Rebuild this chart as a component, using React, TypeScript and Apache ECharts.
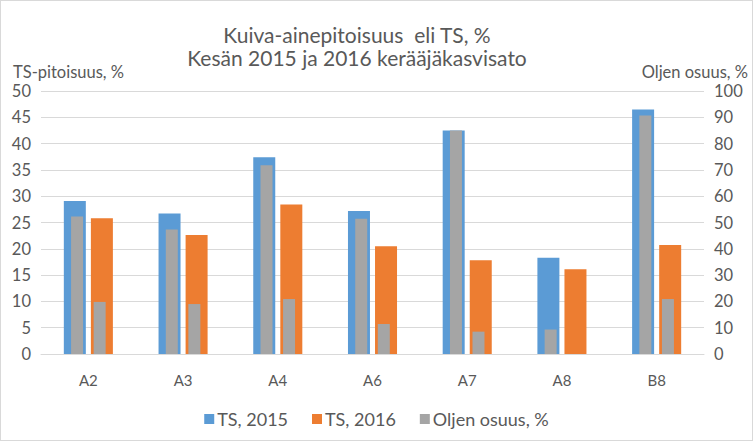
import React, { useEffect, useRef } from "react";
import * as echarts from "echarts";

const categories = ["A2", "A3", "A4", "A6", "A7", "A8", "B8"];
const ts2015 = [29.1, 26.7, 37.4, 27.2, 42.5, 18.3, 46.5];
const ts2016 = [25.8, 22.6, 28.4, 20.5, 17.8, 16.1, 20.7];
const oljen2015 = [52.3, 47.3, 71.8, 51.4, 85, 9.3, 90.7];
const oljen2016 = [19.8, 19, 20.9, 11.4, 8.5, 0, 20.9];
const leftTicks = { min: 0, max: 50, interval: 5 };
const rightTicks = { min: 0, max: 100, interval: 10 };
const titleLines = ["Kuiva-ainepitoisuus  eli TS, %", "Kesän 2015 ja 2016 kerääjäkasvisato"];

const FONT = "Lato, 'Open Sans', sans-serif";
const TXT = "#595959";

export default function App() {
  const ref = useRef<HTMLDivElement>(null);
  useEffect(() => {
    if (!ref.current) return;
    const chart = echarts.init(ref.current, undefined, { renderer: "svg" });
    chart.setOption({
      animation: false,
      backgroundColor: "#ffffff",
      textStyle: { fontFamily: FONT, color: TXT },
      graphic: [
        { type: "text", x: 356, y: 33, style: { text: titleLines[0], fontFamily: FONT, fontSize: 21, fill: TXT, textAlign: "center", textVerticalAlign: "middle" } },
        { type: "text", x: 356, y: 56, style: { text: titleLines[1], fontFamily: FONT, fontSize: 21, fill: TXT, textAlign: "center", textVerticalAlign: "middle" } },
        { type: "text", x: 12, y: 71, style: { text: "TS-pitoisuus, %", fontFamily: FONT, fontSize: 16.5, fill: TXT, textVerticalAlign: "middle" } },
        { type: "text", x: 747, y: 71, style: { text: "Oljen osuus, %", fontFamily: FONT, fontSize: 16.5, fill: TXT, textAlign: "right", textVerticalAlign: "middle" } },
      ],
      legend: {
        data: ["TS, 2015", "TS, 2016", "Oljen osuus, %"],
        top: 404,
        left: "center",
        itemWidth: 10,
        itemHeight: 10,
        itemGap: 24,
        icon: "rect",
        textStyle: { fontFamily: FONT, fontSize: 18, color: TXT, padding: [0, 0, 0, -2] },
      },
      grid: { left: 40, right: 48, top: 90, bottom: 86 },
      xAxis: [
        {
          type: "category",
          data: categories,
          axisLine: { show: true, lineStyle: { color: "#D9D9D9" } },
          axisTick: { show: false },
          axisLabel: { color: TXT, fontSize: 15, fontFamily: FONT, margin: 18 },
        },
        {
          type: "category",
          data: categories,
          show: false,
        },
      ],
      yAxis: [
        {
          type: "value",
          ...leftTicks,
          axisLine: { show: false },
          axisTick: { show: false },
          splitLine: { lineStyle: { color: "#D9D9D9" } },
          axisLabel: { color: TXT, fontSize: 16.5, fontFamily: FONT, margin: 10 },
        },
        {
          type: "value",
          ...rightTicks,
          axisLine: { show: false },
          axisTick: { show: false },
          splitLine: { show: false },
          axisLabel: { color: TXT, fontSize: 16.5, fontFamily: FONT, margin: 10 },
        },
      ],
      series: [
        { name: "TS, 2015", type: "bar", xAxisIndex: 0, yAxisIndex: 0, data: ts2015, barWidth: 22, barGap: "23%", itemStyle: { color: "#5B9BD5" }, z: 2 },
        { name: "TS, 2016", type: "bar", xAxisIndex: 0, yAxisIndex: 0, data: ts2016, barWidth: 22, barGap: "23%", itemStyle: { color: "#ED7D31" }, z: 2 },
        { name: "Oljen osuus, %", type: "bar", xAxisIndex: 1, yAxisIndex: 1, data: oljen2015, barWidth: 12, barGap: "88%", itemStyle: { color: "#A5A5A5" }, z: 3 },
        { name: "Oljen osuus, %", type: "bar", xAxisIndex: 1, yAxisIndex: 1, data: oljen2016, barWidth: 12, barGap: "88%", itemStyle: { color: "#A5A5A5" }, z: 3 },
      ],
    });
    return () => chart.dispose();
  }, []);
  return (
    <div
      style={{
        position: "fixed",
        left: 0,
        top: 0,
        width: 753,
        height: 441,
        boxSizing: "border-box",
        border: "1px solid #D9D9D9",
        background: "#fff",
      }}
    >
      <div ref={ref} style={{ width: 751, height: 439 }} />
    </div>
  );
}
